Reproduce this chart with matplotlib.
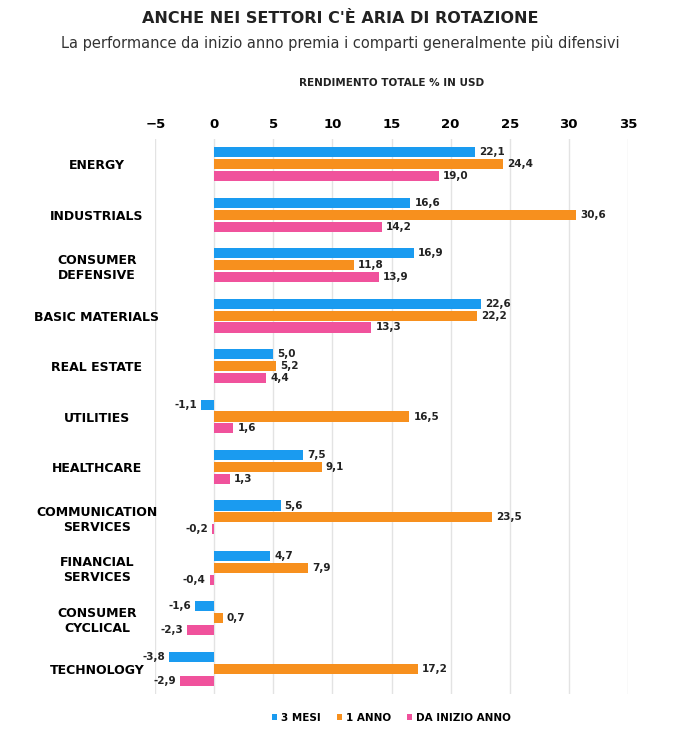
import matplotlib
matplotlib.use("Agg")
import matplotlib.pyplot as plt
import numpy as np

categories = ["ENERGY", "INDUSTRIALS", "CONSUMER\nDEFENSIVE", "BASIC MATERIALS",
              "REAL ESTATE", "UTILITIES", "HEALTHCARE", "COMMUNICATION\nSERVICES",
              "FINANCIAL\nSERVICES", "CONSUMER\nCYCLICAL", "TECHNOLOGY"]
tre_mesi = [22.1, 16.6, 16.9, 22.6, 5.0, -1.1, 7.5, 5.6, 4.7, -1.6, -3.8]
un_anno = [24.4, 30.6, 11.8, 22.2, 5.2, 16.5, 9.1, 23.5, 7.9, 0.7, 17.2]
inizio_anno = [19.0, 14.2, 13.9, 13.3, 4.4, 1.6, 1.3, -0.2, -0.4, -2.3, -2.9]
series_names = ["3 MESI", "1 ANNO", "DA INIZIO ANNO"]
colors = ["#1a9bf0", "#f7901e", "#f0529c"]

plt.rcParams["font.family"] = ["DejaVu Sans"]
fig = plt.figure(figsize=(6.81, 7.32), dpi=100)
ax = fig.add_axes([0.228, 0.052, 0.694, 0.758])

n = len(categories)
y = np.arange(n)
h = 0.235
for k, (vals, col) in enumerate(zip([tre_mesi, un_anno, inizio_anno], colors)):
    pos = y + (k - 1) * h
    ax.barh(pos, vals, height=h * 0.85, color=col, label=series_names[k], zorder=3)
    for p, v in zip(pos, vals):
        txt = f"{v:.1f}".replace(".", ",")
        if v >= 0:
            ax.text(v + 0.35, p, txt, va="center", ha="left", fontsize=7.5, fontweight="bold", color="#222")
        else:
            ax.text(v - 0.35, p, txt, va="center", ha="right", fontsize=7.5, fontweight="bold", color="#222")

ax.set_xlim(-5, 35)
ax.set_ylim(n - 0.5, -0.5)
ax.set_xticks(range(-5, 40, 5))
ax.xaxis.tick_top()
ax.tick_params(axis="x", length=0, labelsize=9.5, pad=6)
for t in ax.get_xticklabels():
    t.set_fontweight("bold")
ax.set_yticks(y)
ax.set_yticklabels(categories, fontsize=9, fontweight="bold", ha="center")
ax.tick_params(axis="y", length=0, pad=42)
ax.grid(axis="x", color="#e3e3e3", linewidth=1, zorder=0)
for s in ax.spines.values():
    s.set_visible(False)

fig.text(0.5, 0.968, "ANCHE NEI SETTORI C'È ARIA DI ROTAZIONE", ha="center", fontsize=11.5, fontweight="bold", color="#222")
fig.text(0.5, 0.935, "La performance da inizio anno premia i comparti generalmente più difensivi", ha="center", fontsize=10.5, color="#333")
fig.text(0.575, 0.883, "RENDIMENTO TOTALE % IN USD", ha="center", fontsize=7.5, fontweight="bold", color="#222")

fig.legend(loc="lower center", bbox_to_anchor=(0.575, 0.0), ncol=3, frameon=False,
           fontsize=7.5, handlelength=0.5, handleheight=0.5, columnspacing=1.5, handletextpad=0.4,
           prop={"weight": "bold", "size": 7.5})

fig.savefig("out.png", dpi=100)
